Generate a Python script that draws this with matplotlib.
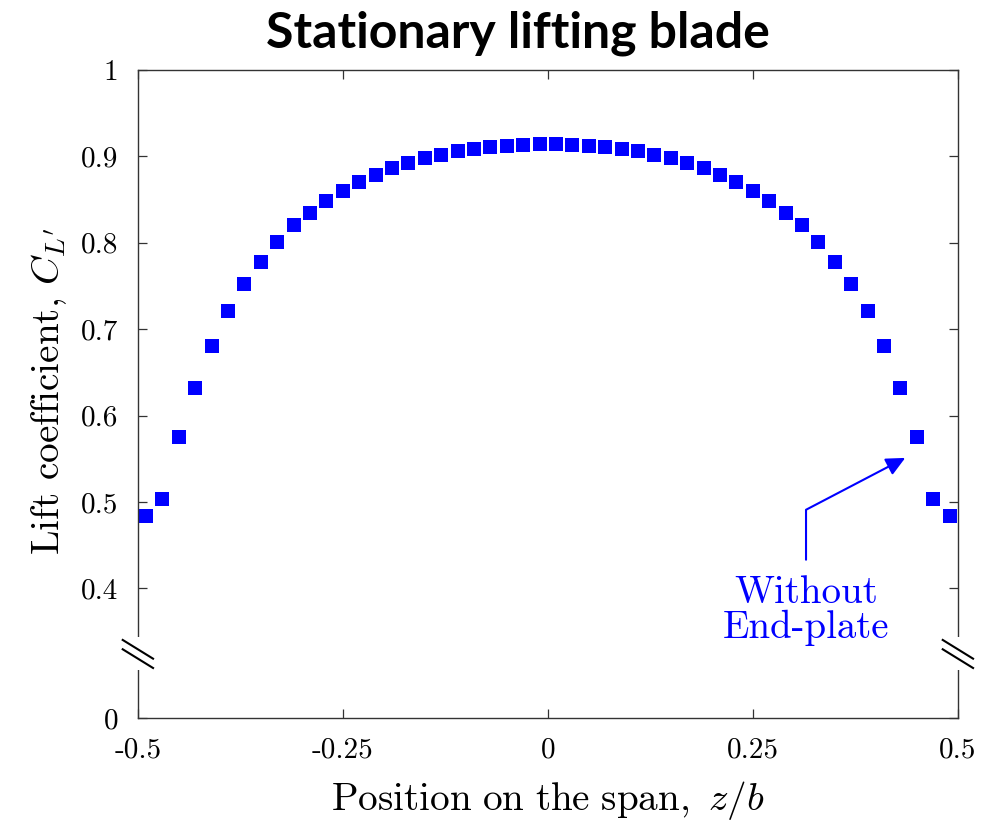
import numpy as np
import matplotlib
matplotlib.use("Agg")
import matplotlib.pyplot as plt
from matplotlib.patches import Rectangle
from matplotlib.lines import Line2D

# ---- données : coefficient de portance le long de l'envergure ----
z_b = [-0.49, -0.47, -0.45, -0.43, -0.41, -0.39, -0.37, -0.35, -0.33, -0.31,
       -0.29, -0.27, -0.25, -0.23, -0.21, -0.19, -0.17, -0.15, -0.13, -0.11,
       -0.09, -0.07, -0.05, -0.03, -0.01,
       0.01, 0.03, 0.05, 0.07, 0.09, 0.11, 0.13, 0.15, 0.17, 0.19,
       0.21, 0.23, 0.25, 0.27, 0.29, 0.31, 0.33, 0.35, 0.37, 0.39,
       0.41, 0.43, 0.45, 0.47, 0.49]
cl = [0.484, 0.503, 0.575, 0.632, 0.681, 0.721, 0.752, 0.778, 0.801, 0.820,
      0.835, 0.848, 0.860, 0.870, 0.879, 0.886, 0.892, 0.898, 0.902, 0.906,
      0.908, 0.911, 0.912, 0.913, 0.914,
      0.914, 0.913, 0.912, 0.911, 0.908, 0.906, 0.902, 0.898, 0.892, 0.886,
      0.879, 0.870, 0.860, 0.848, 0.835, 0.820, 0.801, 0.778, 0.752, 0.721,
      0.681, 0.632, 0.575, 0.503, 0.484]

x_ticks = [-0.5, -0.25, 0, 0.25, 0.5]
x_labels = ['-0.5', '-0.25', '0', '0.25', '0.5']
y_ticks = [0, 0.4, 0.5, 0.6, 0.7, 0.8, 0.9, 1.0]
y_labels = ['0', '0.4', '0.5', '0.6', '0.7', '0.8', '0.9', '1']

BLUE = '#0000ff'
AXC = '#333333'

plt.rcParams.update({
    'font.family': ['cmr10', 'DejaVu Serif'],
    'mathtext.fontset': 'cm',
    'axes.formatter.use_mathtext': True,
    'font.size': 21,
})


# axe vertical coupé : 0 -> 0.4 comprimé sous la partie utile
def fwd(y):
    y = np.asarray(y, dtype=float)
    return np.where(y >= 0.4, y, 0.25 + y * 0.375)


def inv(t):
    t = np.asarray(t, dtype=float)
    return np.where(t >= 0.4, t, (t - 0.25) / 0.375)


fig = plt.figure(figsize=(9.9, 8.26), dpi=100)
ax = fig.add_axes([0.1391, 0.1308, 0.8283, 0.7845])
ax.set_yscale('function', functions=(fwd, inv))

ax.plot(z_b, cl, 's', color=BLUE, markersize=9.6, markeredgewidth=0)

ax.set_xlim(-0.5, 0.5)
ax.set_ylim(0, 1)
ax.set_xticks(x_ticks, x_labels)
ax.set_yticks(y_ticks, y_labels)
ax.minorticks_off()
ax.tick_params(direction='in', length=6.5, width=0.9, color=AXC,
               top=True, right=True, labelsize=21)
ax.tick_params(axis='y', pad=14)
ax.tick_params(axis='x', pad=13.5)
for sp in ax.spines.values():
    sp.set_color(AXC)
    sp.set_linewidth(1.0)

ax.set_xlabel(r'$\mathrm{Position\ on\ the\ span,}\ z/b$', fontsize=28.2,
              va='center')
ax.xaxis.set_label_coords(0.5, -0.128)
ax.set_ylabel(r"Lift coefficient, $C_{L'}$", fontsize=28.2, va='center')
ax.yaxis.set_label_coords(-0.108, 0.504)

# marques de coupure sur les deux axes verticaux
for x0 in (-0.019, 0.981):
    ax.add_patch(Rectangle((x0, 0.074), 0.037, 0.051, transform=ax.transAxes,
                           facecolor='white', edgecolor='none',
                           clip_on=False, zorder=5))
    for dy in (0.0, -0.0144):
        ax.add_line(Line2D([x0 + 0.0007, x0 + 0.0377],
                           [0.1204 + dy, 0.0915 + dy],
                           transform=ax.transAxes, color='black', lw=1.5,
                           clip_on=False, zorder=6))

ax.annotate('Without\nEnd-plate', xy=(0.436, 0.551),
            xytext=(0.815, 0.166), textcoords='axes fraction',
            ha='center', va='center', color=BLUE, fontsize=28,
            linespacing=0.95,
            arrowprops=dict(arrowstyle='-|>,head_length=0.46,head_width=0.22',
                            mutation_scale=25, color=BLUE, lw=1.5,
                            connectionstyle='angle,angleA=90,angleB=27.6,rad=0',
                            shrinkA=9, shrinkB=0))

fig.text(0.523, 0.943, 'Stationary lifting blade', family='Lato',
         weight='bold', fontsize=36, ha='center', va='baseline')

fig.savefig('out.png', dpi=100)
